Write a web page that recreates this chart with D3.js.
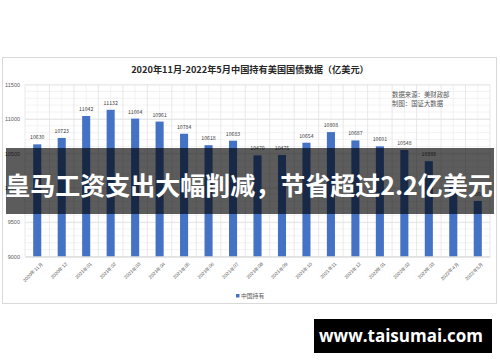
<!DOCTYPE html>
<html>
<head>
<meta charset="utf-8">
<script src="https://cdn.jsdelivr.net/npm/d3@7"></script>
<style>
  body { margin: 0; background: #ffffff; }
  svg { display: block; font-family: "Noto Sans CJK SC", "Noto Sans", sans-serif; }
</style>
</head>
<body>
<div id="chart"></div>
<script>
// Data
var months = ['2020年11月', '2020年12', '2021年01', '2021年02', '2021年03',
              '2021年04', '2021年05', '2021年06', '2021年07', '2021年08',
              '2021年09', '2021年10', '2021年11', '2021年12', '2022年01',
              '2022年02', '2022年03', '2022年4月', '2022年5月'];
var holdings = [10630, 10723, 11042, 11132, 11004, 10961, 10784, 10618, 10683,
                10470, 10475, 10654, 10808, 10687, 10601, 10548, 10386, 10037,
                9808];
var yTicks = [9000, 9500, 10000, 10500, 11000, 11500];
var titleText = '2020年11月-2022年5月中国持有美国国债数据（亿美元）';
var sourceLines = ['数据来源：美财政部', '制图：国证大数据'];
var legendText = '中国持有';
var bannerText = '皇马工资支出大幅削减，节省超过2.2亿美元';
var watermarkText = 'www.taisumai.com';

var width = 500, height = 362;
var plot = {left: 25, right: 490, top: 84.5, bottom: 256.5};

var svg = d3.select('#chart')
            .append('svg')
            .attr('width', width)
            .attr('height', height);

// Chart frame
svg.append('rect')
   .attr('x', 2.5).attr('y', 57.5)
   .attr('width', 494).attr('height', 246)
   .attr('fill', '#ffffff')
   .attr('stroke', '#d9d9d9');

// Scales
var x = d3.scaleBand()
    .domain(months)
    .range([plot.left, plot.right])
    .paddingInner(0.67)
    .paddingOuter(0.335);

var y = d3.scaleLinear()
    .domain([9000, 11500])
    .range([plot.bottom, plot.top]);

// Minor horizontal grid
svg.append('g')
   .selectAll('line')
   .data(d3.range(9000, 11501, 100))
   .join('line')
   .attr('x1', plot.left).attr('x2', plot.right)
   .attr('y1', function(d) { return y(d); })
   .attr('y2', function(d) { return y(d); })
   .attr('stroke', '#f0f0f0')
   .attr('stroke-width', 0.8);

// Minor vertical grid (category centres)
svg.append('g')
   .selectAll('line')
   .data(months)
   .join('line')
   .attr('x1', function(d) { return x(d) + x.bandwidth() / 2; })
   .attr('x2', function(d) { return x(d) + x.bandwidth() / 2; })
   .attr('y1', plot.top).attr('y2', plot.bottom)
   .attr('stroke', '#f0f0f0')
   .attr('stroke-width', 0.8);

// Major vertical grid (category boundaries)
var step = x.step();
svg.append('g')
   .selectAll('line')
   .data(months.concat(['end']))
   .join('line')
   .attr('x1', function(d, i) { return plot.left + i * step; })
   .attr('x2', function(d, i) { return plot.left + i * step; })
   .attr('y1', plot.top).attr('y2', plot.bottom)
   .attr('stroke', '#e3e3e3')
   .attr('stroke-width', 0.8);

// Y axis with major grid
var yAxis = svg.append('g')
   .attr('transform', 'translate(' + plot.left + ',0)')
   .call(d3.axisLeft(y)
           .tickValues(yTicks)
           .tickSize(-(plot.right - plot.left))
           .tickPadding(5)
           .tickFormat(d3.format('d')));
yAxis.select('.domain').remove();
yAxis.selectAll('line').attr('stroke', '#e0e0e0').attr('stroke-width', 0.8);
yAxis.selectAll('text')
     .attr('fill', '#595959')
     .style('font-size', '5.5px');

// Bars
svg.append('g')
   .selectAll('rect')
   .data(holdings)
   .join('rect')
   .attr('x', function(d, i) { return x(months[i]); })
   .attr('y', function(d) { return y(d); })
   .attr('width', x.bandwidth())
   .attr('height', function(d) { return y(9000) - y(d); })
   .attr('fill', '#4472c4');

// Value labels
svg.append('g')
   .selectAll('text')
   .data(holdings)
   .join('text')
   .attr('x', function(d, i) { return x(months[i]) + x.bandwidth() / 2; })
   .attr('y', function(d) { return y(d) - 5; })
   .attr('text-anchor', 'middle')
   .attr('fill', '#404040')
   .style('font-size', '5.2px')
   .text(function(d) { return d; });

// X axis
var xAxis = svg.append('g')
   .attr('transform', 'translate(0,' + plot.bottom + ')')
   .call(d3.axisBottom(x).tickSize(0).tickPadding(4));
xAxis.select('.domain').attr('stroke', '#d9d9d9');
xAxis.selectAll('text')
     .attr('fill', '#595959')
     .style('font-size', '4.8px')
     .attr('text-anchor', 'end')
     .attr('dy', '0.3em')
     .attr('transform', 'translate(2,4) rotate(-45)');

// Title
svg.append('text')
   .attr('x', 250).attr('y', 72.5)
   .attr('text-anchor', 'middle')
   .attr('fill', '#262626')
   .style('font-size', '9.2px')
   .style('font-weight', 'bold')
   .text(titleText);

// Source note
svg.append('g')
   .selectAll('text')
   .data(sourceLines)
   .join('text')
   .attr('x', 392)
   .attr('y', function(d, i) { return 96.5 + i * 9; })
   .attr('fill', '#595959')
   .style('font-size', '6.4px')
   .text(function(d) { return d; });

// Legend
svg.append('rect')
   .attr('x', 236).attr('y', 294)
   .attr('width', 3.5).attr('height', 3.5)
   .attr('fill', '#4472c4');
svg.append('text')
   .attr('x', 241).attr('y', 298)
   .attr('fill', '#595959')
   .style('font-size', '5.8px')
   .text(legendText);

// Headline banner over the chart
svg.append('rect')
   .attr('x', 6).attr('y', 148)
   .attr('width', 488).attr('height', 66)
   .attr('fill', '#000000')
   .attr('fill-opacity', 0.64);
svg.append('text')
   .attr('x', 249).attr('y', 195)
   .attr('text-anchor', 'middle')
   .attr('fill', '#ffffff')
   .style('font-size', '25px')
   .style('font-weight', 'bold')
   .text(bannerText);

// Watermark
svg.append('rect')
   .attr('x', 314).attr('y', 319)
   .attr('width', 178).attr('height', 34)
   .attr('fill', '#000000');
svg.append('text')
   .attr('x', 401).attr('y', 342)
   .attr('text-anchor', 'middle')
   .attr('fill', '#ffffff')
   .style('font-family', '"Open Sans", "DejaVu Sans", sans-serif')
   .style('font-size', '17px')
   .style('font-weight', 'bold')
   .text(watermarkText);
</script>
</body>
</html>
